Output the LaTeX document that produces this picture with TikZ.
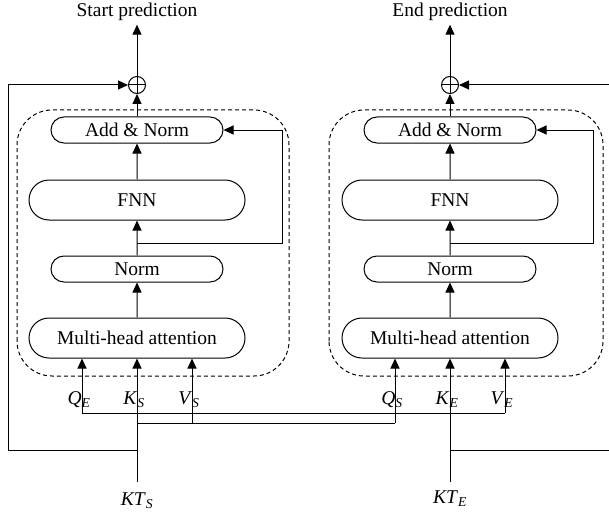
\documentclass[tikz,border=0pt]{standalone}
\usepackage{fontspec}
\setmainfont{Liberation Serif}
\usetikzlibrary{arrows.meta,shapes.misc,calc}

\newcommand{\isub}[2]{\textit{#1}\textsubscript{\textit{#2}}}

\tikzset{
	every node/.style={font=\fontsize{19.5}{22}\selectfont},
	smallblock/.style={draw,rounded rectangle,minimum width=172pt,minimum height=26pt,inner sep=0pt},
	bigblock/.style={draw,rounded rectangle,minimum width=216pt,minimum height=40pt,inner sep=0pt},
	sumnode/.style={draw,circle,minimum size=17pt,inner sep=0pt,
		path picture={\draw (path picture bounding box.north) -- (path picture bounding box.south)
			(path picture bounding box.west) -- (path picture bounding box.east);}},
	arr/.style={-{Triangle[length=10pt,width=9pt]}},
	frame/.style={dash pattern=on 4pt off 3pt,rounded corners=35pt},
}

\begin{document}
\begin{tikzpicture}[x=1pt,y=1pt,line width=1pt]
		\useasboundingbox (0,0) rectangle (609,515);
		
		% start branch
		\draw[frame] (17,139) rectangle (289,405);
		\node[bigblock] (mhaS) at (137,177) {Multi-head attention};
		\node[smallblock] (normS) at (137,246) {Norm};
		\node[bigblock] (fnnS) at (137,315) {FNN};
		\node[smallblock] (addS) at (137,385) {Add \& Norm};
		\node[sumnode] (sumS) at (137,430) {};
		\node (outS) at (137,503) {Start prediction};
		\draw[arr] (mhaS) -- (normS);
		\draw[arr] (normS) -- (fnnS);
		\draw[arr] (fnnS) -- (addS);
		\draw[arr] (addS) -- (sumS);
		\draw[arr] (sumS) -- (outS);
		\coordinate (brS) at ($(normS.north)!0.35!(fnnS.south)$);
		\draw[arr] (brS) -- ++(145,0) |- (addS.east);
		
		% end branch
		\draw[frame] (329,139) rectangle (603,405);
		\node[bigblock] (mhaE) at (450,177) {Multi-head attention};
		\node[smallblock] (normE) at (450,246) {Norm};
		\node[bigblock] (fnnE) at (450,315) {FNN};
		\node[smallblock] (addE) at (450,385) {Add \& Norm};
		\node[sumnode] (sumE) at (450,430) {};
		\node (outE) at (450,503) {End prediction};
		\draw[arr] (mhaE) -- (normE);
		\draw[arr] (normE) -- (fnnE);
		\draw[arr] (fnnE) -- (addE);
		\draw[arr] (addE) -- (sumE);
		\draw[arr] (sumE) -- (outE);
		\coordinate (brE) at ($(normE.north)!0.35!(fnnE.south)$);
		\draw[arr] (brE) -- ++(143,0) |- (addE.east);
		
		% inputs
		\node (ktS) at (137,14) {\isub{KT}{S}};
		\node (ktE) at (450,16) {\isub{KT}{E}};
		\coordinate (ktSin) at (137,33);
		\coordinate (ktEin) at (450,33);
		\coordinate (qEin) at (82,102);
		\coordinate (vSin) at (192,92);
		\coordinate (qSin) at (395,92);
		\coordinate (vEin) at (505,102);
		\draw[arr] (qEin) -- (qEin |- mhaS.south);
		\draw[arr] (ktSin) -- (mhaS.south);
		\draw[arr] (vSin) -- (vSin |- mhaS.south);
		\draw[arr] (qSin) -- (qSin |- mhaE.south);
		\draw[arr] (ktEin) -- (mhaE.south);
		\draw[arr] (vEin) -- (vEin |- mhaE.south);
		\node[xshift=-3pt] (qE) at (82,115) {\isub{Q}{E}};
		\node[xshift=-3pt] (kS) at (137,115) {\isub{K}{S}};
		\node[xshift=-3pt] (vS) at (192,115) {\isub{V}{S}};
		\node[xshift=-3pt] (qS) at (395,115) {\isub{Q}{S}};
		\node[xshift=-3pt] (kE) at (450,115) {\isub{K}{E}};
		\node[xshift=-3pt] (vE) at (505,115) {\isub{V}{E}};
		\draw (qEin) -- (vEin);
		\draw (ktSin |- vSin) -- (qSin);
		
		% residual paths
		\draw[arr] (ktSin |- 0,65) -- (8,65) |- (sumS.west);
		\draw[arr] (ktEin |- 0,65) -- (609,65) |- (sumE.east);
\end{tikzpicture}
\end{document}
